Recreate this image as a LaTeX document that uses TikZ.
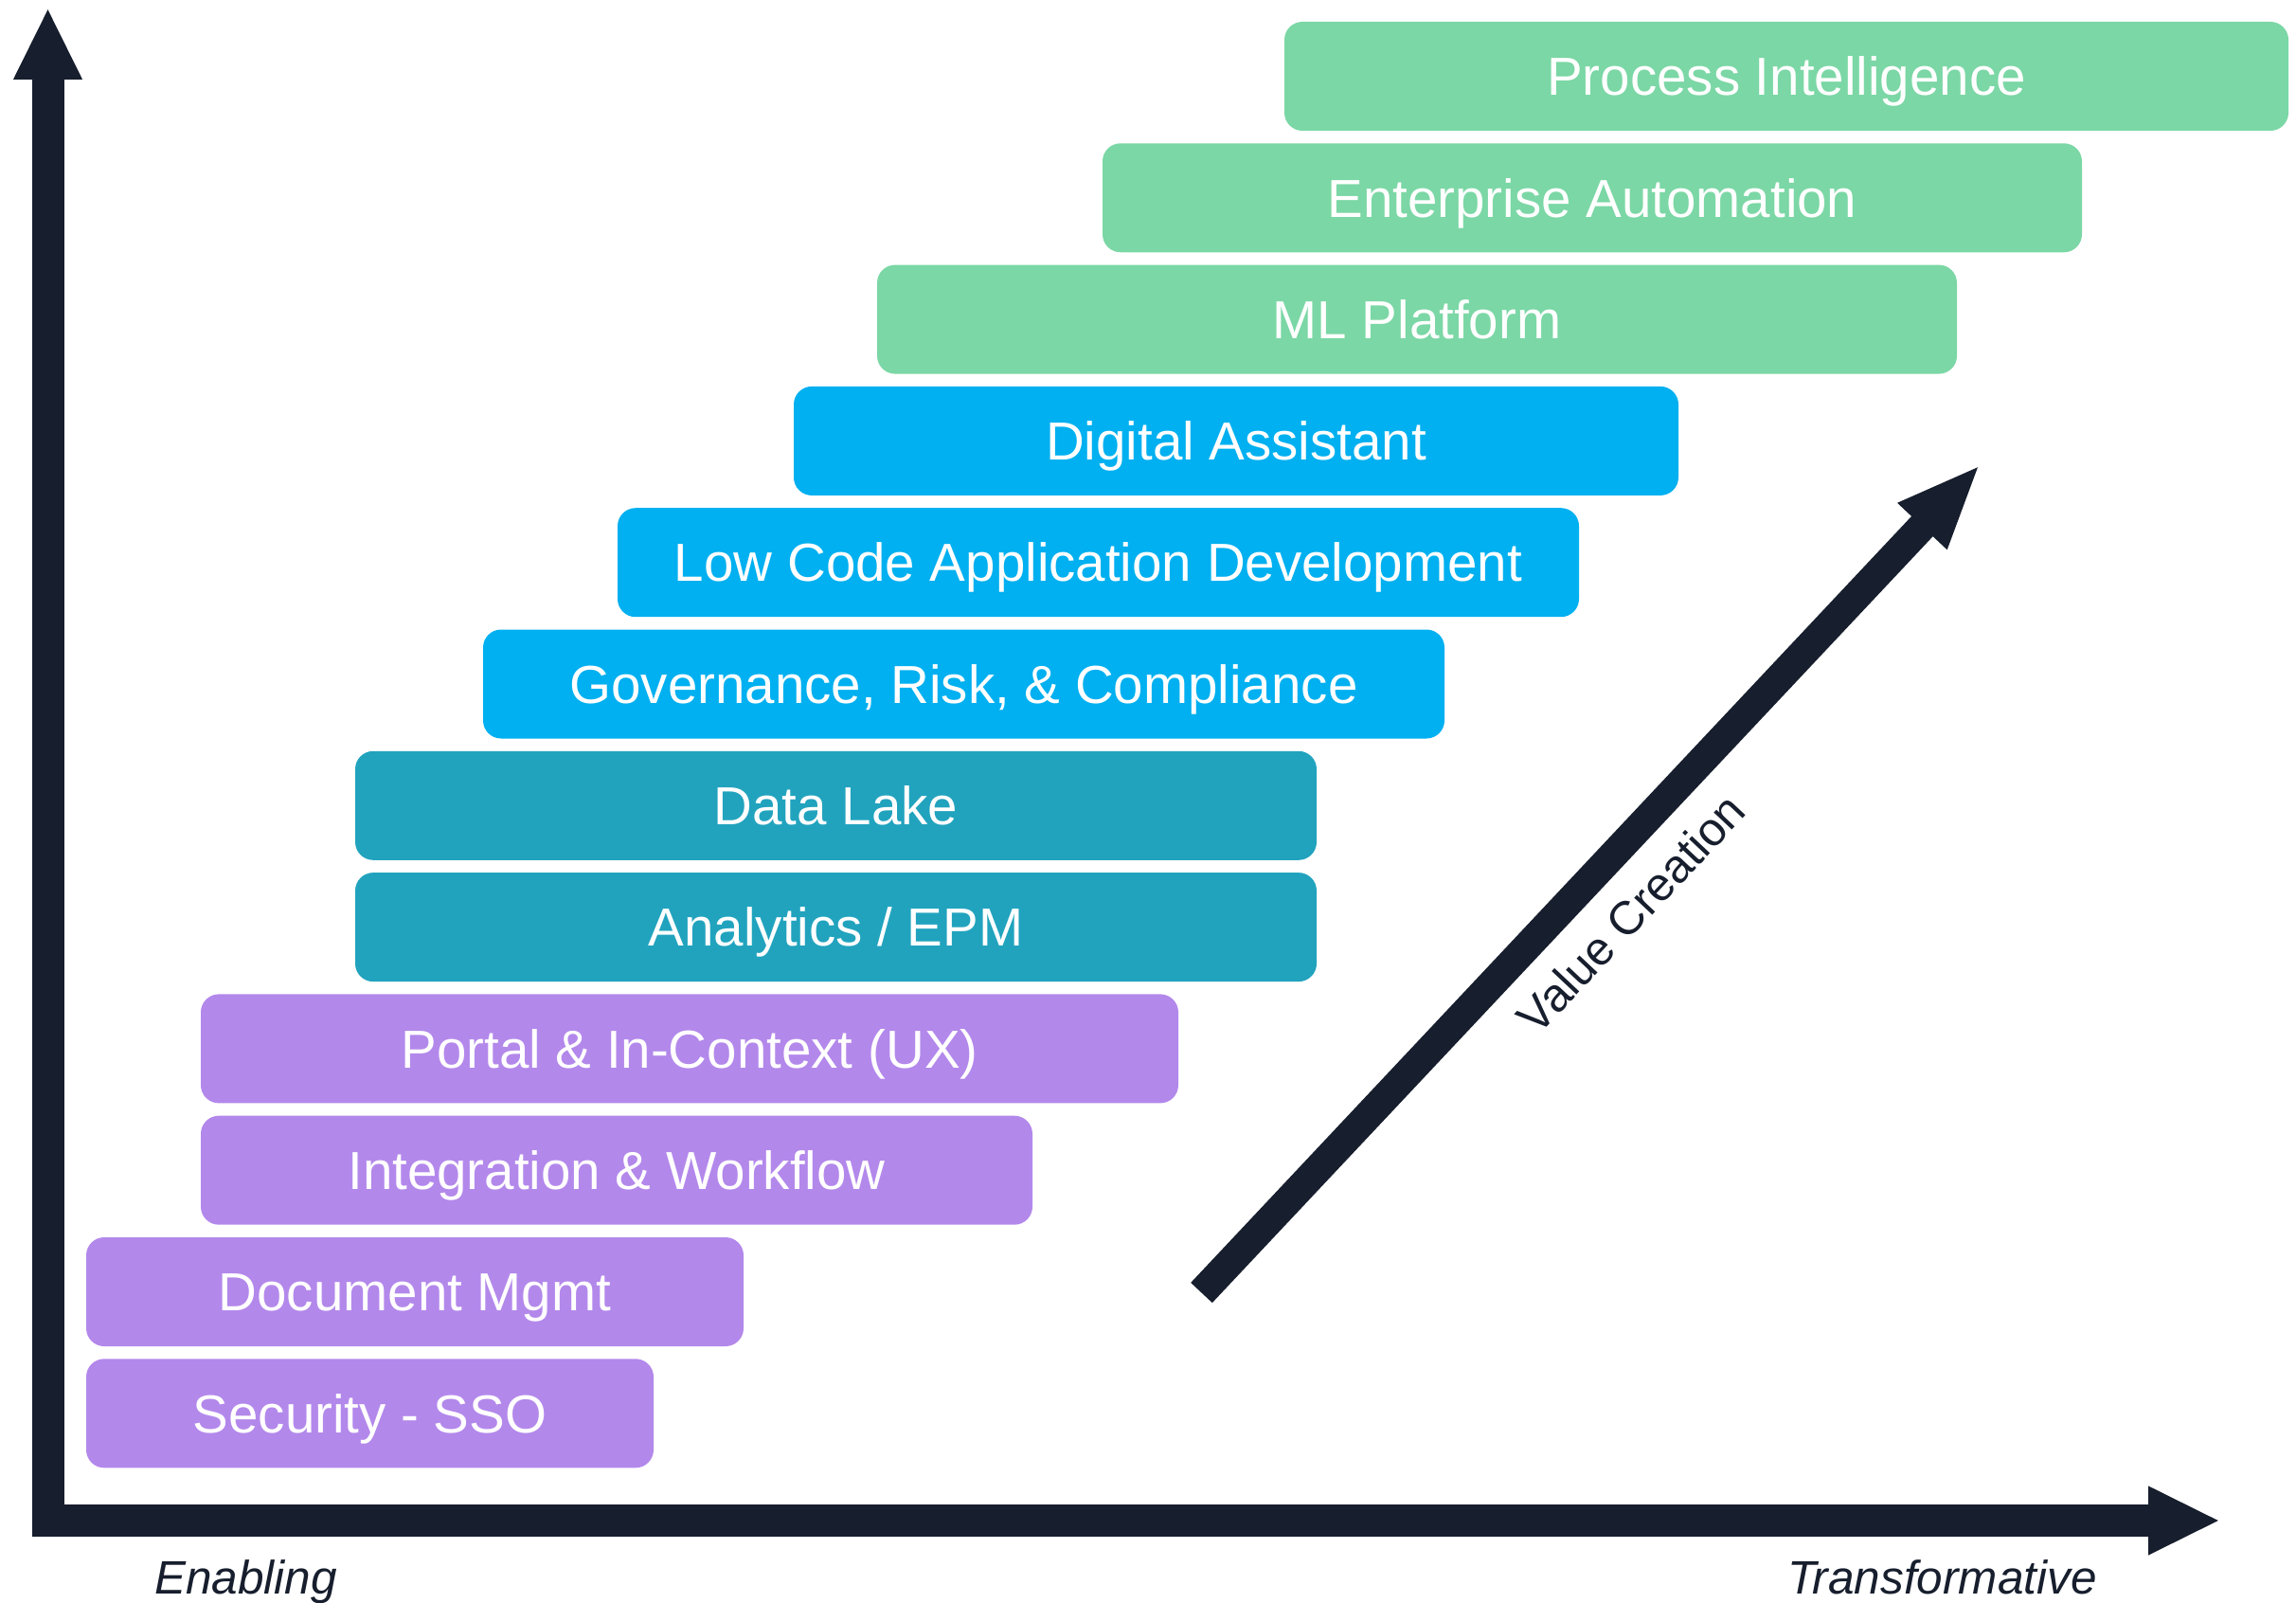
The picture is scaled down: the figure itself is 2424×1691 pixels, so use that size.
\documentclass[tikz,border=0pt]{standalone}
\usepackage{fontspec}
\setmainfont{Liberation Sans}
\usetikzlibrary{arrows.meta}
\definecolor{darkax}{HTML}{171E2D}
\definecolor{purp}{HTML}{B388EB}
\definecolor{teal}{HTML}{21A3BE}
\definecolor{sky}{HTML}{00B0F0}
\definecolor{mint}{HTML}{7BD7A5}
\newcommand{\boxfont}{\fontsize{56.5}{60}\selectfont}
\newcommand{\lblfont}{\fontsize{49.5}{53}\selectfont}
\tikzset{
  bar/.style={rounded corners=19pt, inner sep=0pt, text=white, font=\boxfont,
    text height=40.5pt, text depth=0pt, minimum height=115pt, anchor=center},
  axisline/.style={draw=darkax, line width=34pt,
    {Triangle[length=76pt,width=67pt]}-{Triangle[length=76pt,width=67pt]}},
  vcarrow/.style={draw=darkax, line width=31pt, -{Triangle[length=90pt,width=64.5pt]}},
  axislabel/.style={font=\lblfont\itshape, text=darkax, anchor=base, inner sep=0pt},
}
\begin{document}
\begin{tikzpicture}[x=1pt,y=-1pt]
\useasboundingbox (0,0) rectangle (2424,1691);
% boxes
\node[bar, fill=mint, minimum width=1060pt] (pi) at (1886,80.5) {Process Intelligence};
\node[bar, fill=mint, minimum width=1034pt] (ea) at (1681,208.8) {Enterprise Automation};
\node[bar, fill=mint, minimum width=1140pt] (ml) at (1496,337.1) {ML Platform};
\node[bar, fill=sky, minimum width=934pt] (da) at (1305,465.4) {Digital Assistant};
\node[bar, fill=sky, minimum width=1015pt] (lc) at (1159.5,593.7) {Low Code Application Development};
\node[bar, fill=sky, minimum width=1015pt] (grc) at (1017.5,722) {Governance, Risk, \& Compliance};
\node[bar, fill=teal, minimum width=1015pt] (dl) at (882.5,850.3) {Data Lake};
\node[bar, fill=teal, minimum width=1015pt] (an) at (882.5,978.6) {Analytics / EPM};
\node[bar, fill=purp, minimum width=1032pt] (po) at (728,1106.9) {Portal \& In-Context (UX)};
\node[bar, fill=purp, minimum width=878pt] (iw) at (651,1235.2) {Integration \& Workflow};
\node[bar, fill=purp, minimum width=694pt] (dm) at (438,1363.5) {Document Mgmt};
\node[bar, fill=purp, minimum width=599pt] (sso) at (390.5,1491.8) {Security - SSO};
% axes
\coordinate (origin) at (50.5,1605);
\coordinate (ytip) at (50.5,8);
\coordinate (xtip) at (2344,1605);
\draw[axisline] (xtip) -- (origin) -- (ytip);
\node[axislabel] (enab) at (259.5,1682) {Enabling};
\node[axislabel] (trans) at (2050.5,1682) {Transformative};
% value creation arrow
\coordinate (vcs) at (1268.5,1364.5);
\coordinate (vce) at (2091,490);
\draw[vcarrow] (vcs) -- (vce);
\node[font=\lblfont, text=darkax, rotate=46.75, inner sep=0pt] (vc) at (1722,964) {Value Creation};
\end{tikzpicture}
\end{document}
